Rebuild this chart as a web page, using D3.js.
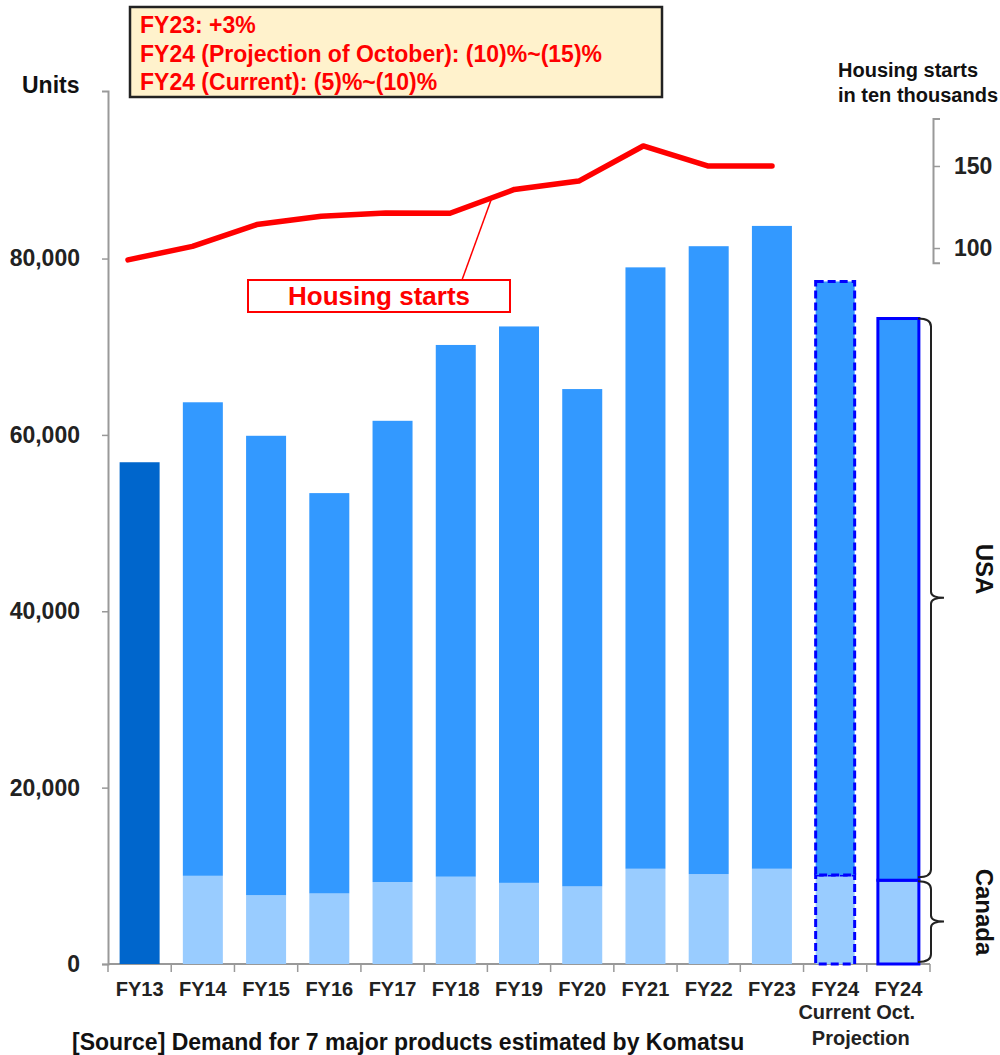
<!DOCTYPE html>
<html>
<head>
<meta charset="utf-8">
<script src="https://cdn.jsdelivr.net/npm/d3@7"></script>
<style>
  html, body { margin: 0; padding: 0; background: #fff; }
  svg { display: block; font-family: "Liberation Sans", Arial, sans-serif; font-weight: bold; }
</style>
</head>
<body>
<svg id="chart" width="1000" height="1055"></svg>
<script>
// Fiscal-year categories along the x axis
const categories = ["FY13", "FY14", "FY15", "FY16", "FY17", "FY18", "FY19", "FY20", "FY21", "FY22", "FY23", "FY24 Current", "FY24 Oct."];
// Total demand (units) and the Canada share; FY13 has no split
const totalDemand  = [56900, 63700, 59900, 53400, 61600, 70200, 72300, 65200, 79000, 81400, 83700, 77400, 73200];
const canadaDemand = [null, 10000, 7800, 8000, 9300, 9900, 9200, 8800, 10800, 10200, 10800, 10100, 9500];
// Housing starts (ten thousands), FY13-FY23
const housingYears = ["FY13", "FY14", "FY15", "FY16", "FY17", "FY18", "FY19", "FY20", "FY21", "FY22", "FY23"];
const housingStarts = [92.8, 101.0, 114.3, 119.4, 121.4, 121.2, 135.7, 140.8, 162.2, 150.0, 150.0];
// Axis ticks
const leftTicks = [0, 20000, 40000, 60000, 80000];
const rightTicks = [100, 150];
// Annotation texts
const noteLines = ["FY23: +3%", "FY24 (Projection of October): (10)%~(15)%", "FY24 (Current): (5)%~(10)%"];

const svg = d3.select("#chart");
const textColor = "#222";
const axisColor = "#999";

const x = d3.scaleBand().domain(categories).range([108, 930]).paddingInner(0).paddingOuter(0);
const y = d3.scaleLinear().domain([0, 99000]).range([964, 91]);
const yR = d3.scaleLinear().domain([91, 179]).range([262.8, 118.4]);
const xLine = d3.scalePoint().domain(housingYears).range([128, 772]);

const barW = 40;

// ---- Left axis
const leftAxis = d3.axisLeft(y).tickValues(leftTicks).tickSize(6).tickPadding(22)
  .tickFormat(d => d3.format(",")(d));
const gL = svg.append("g").attr("transform", "translate(108,0)").call(leftAxis);
gL.select(".domain").attr("stroke", axisColor).attr("stroke-width", 2);
gL.selectAll(".tick line").attr("stroke", axisColor).attr("stroke-width", 1.5);
gL.selectAll(".tick text").attr("fill", textColor).attr("font-size", 23)
  .attr("font-family", "Liberation Sans, Arial").attr("font-weight", "bold");

// ---- Bottom axis (ticks on category boundaries)
svg.append("line").attr("x1", 108).attr("x2", 930).attr("y1", y(0)).attr("y2", y(0))
  .attr("stroke", axisColor).attr("stroke-width", 2);
const bounds = categories.map(c => x(c)).concat([x.range()[1]]);
svg.append("g").selectAll("line").data(bounds).join("line")
  .attr("x1", d => d).attr("x2", d => d).attr("y1", y(0)).attr("y2", y(0) + 8)
  .attr("stroke", axisColor).attr("stroke-width", 1.5);

// ---- Right axis for housing starts
const rightAxis = d3.axisRight(yR).tickValues(rightTicks).tickSize(7).tickPadding(14);
const gR = svg.append("g").attr("transform", "translate(933,0)").call(rightAxis);
gR.select(".domain").attr("stroke", axisColor).attr("stroke-width", 2);
gR.selectAll(".tick line").attr("stroke", axisColor).attr("stroke-width", 1.5);
gR.selectAll(".tick text").attr("fill", textColor).attr("font-size", 23)
  .attr("font-family", "Liberation Sans, Arial").attr("font-weight", "bold");

// ---- Bars
const rows = categories.map((c, i) => ({ cat: c, total: totalDemand[i], canada: canadaDemand[i], i }));
const barG = svg.append("g");
rows.forEach(r => {
  const cx = x(r.cat) + x.bandwidth() / 2;
  const isCur = r.cat === "FY24 Current";
  const isOct = r.cat === "FY24 Oct.";
  const w = isOct ? 41 : (isCur ? 39 : barW);
  const x0 = cx - w / 2;
  const strokeAttrs = sel => {
    if (isCur) sel.attr("stroke", "#0000FF").attr("stroke-width", 3).attr("stroke-dasharray", "8,4");
    else if (isOct) sel.attr("stroke", "#0000FF").attr("stroke-width", 3);
  };
  if (r.canada == null) {
    barG.append("rect").attr("x", x0).attr("width", w)
      .attr("y", y(r.total)).attr("height", y(0) - y(r.total)).attr("fill", "#0066CC");
  } else {
    barG.append("rect").attr("x", x0).attr("width", w)
      .attr("y", y(r.canada)).attr("height", y(0) - y(r.canada)).attr("fill", "#99CCFF").call(strokeAttrs);
    barG.append("rect").attr("x", x0).attr("width", w)
      .attr("y", y(r.total)).attr("height", y(r.canada) - y(r.total)).attr("fill", "#3399FF").call(strokeAttrs);
  }
});

// ---- X labels
const xl = svg.append("g").attr("font-size", 20).attr("fill", textColor).attr("text-anchor", "middle");
categories.forEach(c => {
  xl.append("text").attr("x", x(c) + x.bandwidth() / 2).attr("y", 996).text(c.split(" ")[0]);
});
const cCur = x("FY24 Current") + x.bandwidth() / 2;
const cOct = x("FY24 Oct.") + x.bandwidth() / 2;
xl.append("text").attr("x", (cCur + cOct) / 2 - 10).attr("y", 1019).text("Current Oct.");
xl.append("text").attr("x", (cCur + cOct) / 2 - 6).attr("y", 1045).text("Projection");

// ---- Housing starts line
const line = d3.line().x((d, i) => xLine(housingYears[i])).y(d => yR(d));
svg.append("path").datum(housingStarts).attr("d", line)
  .attr("fill", "none").attr("stroke", "#FF0000").attr("stroke-width", 5.5)
  .attr("stroke-linejoin", "round").attr("stroke-linecap", "round");

// Leader from the series label to the line (between FY18 and FY19)
const t = 0.65;
const lx = xLine("FY18") + t * (xLine("FY19") - xLine("FY18"));
const ly = yR(housingStarts[5]) + t * (yR(housingStarts[6]) - yR(housingStarts[5]));
svg.append("line").attr("x1", 462).attr("y1", 280).attr("x2", lx).attr("y2", ly)
  .attr("stroke", "#FF0000").attr("stroke-width", 1.5);
svg.append("rect").attr("x", 248).attr("y", 280).attr("width", 262).attr("height", 32)
  .attr("fill", "#fff").attr("stroke", "#FF0000").attr("stroke-width", 2);
svg.append("text").attr("x", 379).attr("y", 305).attr("text-anchor", "middle")
  .attr("font-size", 26).attr("fill", "#FF0000").text("Housing starts");

// ---- Curly braces for USA / Canada on the Oct. projection bar
function brace(y0, y1) {
  const xi = 918, xv = 931, xt = 944, r = 8;
  const ym = (y0 + y1) / 2;
  return `M${xi},${y0} Q${xv},${y0} ${xv},${y0 + r} L${xv},${ym - 6} Q${xv},${ym} ${xt},${ym}` +
         ` Q${xv},${ym} ${xv},${ym + 6} L${xv},${y1 - r} Q${xv},${y1} ${xi},${y1}`;
}
const oct = rows[rows.length - 1];
svg.append("path").attr("d", brace(y(oct.total), y(oct.canada) - 3))
  .attr("fill", "none").attr("stroke", "#222").attr("stroke-width", 2);
svg.append("path").attr("d", brace(y(oct.canada) + 1, y(0) - 2))
  .attr("fill", "none").attr("stroke", "#222").attr("stroke-width", 2);
svg.append("text").attr("transform", "translate(976,569) rotate(90)")
  .attr("text-anchor", "middle").attr("font-size", 24).attr("fill", "#111").text("USA");
svg.append("text").attr("transform", "translate(976,912) rotate(90)")
  .attr("text-anchor", "middle").attr("font-size", 24).attr("fill", "#111").text("Canada");

// ---- Titles
svg.append("text").attr("x", 22).attr("y", 93).attr("font-size", 23).attr("fill", "#111").text("Units");
svg.append("text").attr("x", 838).attr("y", 77).attr("font-size", 20).attr("fill", "#111").text("Housing starts");
svg.append("text").attr("x", 838).attr("y", 102).attr("font-size", 20).attr("fill", "#111").text("in ten thousands");

// ---- Annotation box
svg.append("rect").attr("x", 130).attr("y", 7).attr("width", 532).attr("height", 90)
  .attr("fill", "#FFF2CC").attr("stroke", "#222").attr("stroke-width", 2.5);
svg.append("g").selectAll("text").data(noteLines).join("text")
  .attr("x", 140).attr("y", (d, i) => 33 + i * 28.5)
  .attr("font-size", 23).attr("fill", "#FF0000").text(d => d);

// ---- Source
svg.append("text").attr("x", 72).attr("y", 1050).attr("font-size", 23).attr("fill", "#111")
  .text("[Source] Demand for 7 major products estimated by Komatsu");
</script>
</body>
</html>
